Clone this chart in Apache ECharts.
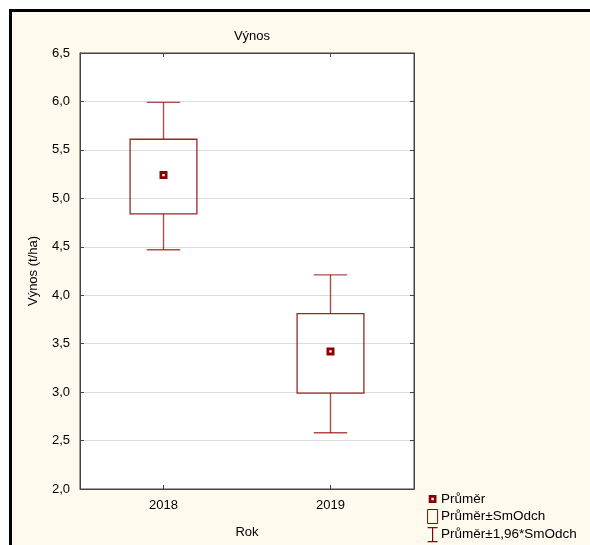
<!DOCTYPE html>
<html>
<head>
<meta charset="utf-8">
<script src="https://cdn.jsdelivr.net/npm/echarts@6/dist/echarts.min.js"></script>
<style>
  html, body { margin: 0; padding: 0; background: #ffffff; }
  #chart { width: 590px; height: 545px; }
</style>
</head>
<body>
<div id="chart"></div>
<script>
// ---- data ----
const categories = ['2018', '2019'];
const means  = [5.24, 3.42];
const sdLow  = [4.84, 2.99];
const sdHigh = [5.61, 3.81];
const ciLow  = [4.47, 2.58];
const ciHigh = [5.99, 4.21];
const yTicks = { min: 2.0, max: 6.5, step: 0.5 };
const titleText = 'Výnos';
const yName = 'Výnos (t/ha)';
const xName = 'Rok';
const seriesNames = ['Průměr', 'Průměr±SmOdch', 'Průměr±1,96*SmOdch'];

const RED = '#8b0000';
const FONT = 'Liberation Sans, Arial, sans-serif';
const FS = 13;

const boxData = categories.map((c, i) => [i, sdLow[i], sdHigh[i]]);
const whiskerData = categories.map((c, i) => [i, ciLow[i], sdLow[i], sdHigh[i], ciHigh[i]]);
const meanData = categories.map((c, i) => [i, means[i]]);

const chart = echarts.init(document.getElementById('chart'), null, { renderer: 'canvas' });

const fmt = v => v.toFixed(1).replace('.', ',');

chart.setOption({
  animation: false,
  backgroundColor: '#ffffff',
  graphic: [{
    type: 'rect', z: -10, silent: true,
    shape: { x: 10.5, y: 10.5, width: 700, height: 700 },
    style: { fill: '#fffaee', stroke: '#000000', lineWidth: 3 }
  }],
  title: {
    text: titleText,
    left: 247, top: 25, textAlign: 'center',
    textStyle: { fontFamily: FONT, fontSize: FS, fontWeight: 'normal', color: '#000' }
  },
  grid: {
    left: 80, right: 176, top: 53, bottom: 56,
    show: true, backgroundColor: '#ffffff', borderColor: '#444', borderWidth: 1
  },
  legend: {
    orient: 'vertical', left: 427, top: 492,
    itemWidth: 11, itemHeight: 14, itemGap: 3, padding: 0,
    textStyle: { fontFamily: FONT, fontSize: 13.5, color: '#000', padding: [0, 0, 0, -2] },
    selectedMode: false,
    data: [
      { name: seriesNames[0],
        icon: 'path://M0,0M14,18M2,4L12,4L12,14L2,14ZM5.5,7.5L5.5,10.5L8.5,10.5L8.5,7.5Z',
        itemStyle: { color: RED, borderWidth: 0 } },
      { name: seriesNames[1],
        icon: 'path://M0,0L10,0L10,14L0,14Z',
        itemStyle: { color: 'rgba(0,0,0,0)', borderColor: RED, borderWidth: 1 } },
      { name: seriesNames[2],
        icon: 'path://M0,0L10,0M5,0L5,14M0,14L10,14',
        itemStyle: { color: 'rgba(0,0,0,0)', borderColor: RED, borderWidth: 1.2 } }
    ]
  },
  xAxis: [{
    type: 'category', data: categories, boundaryGap: true,
    name: xName, nameLocation: 'middle', nameGap: 37,
    nameTextStyle: { fontFamily: FONT, fontSize: FS, color: '#000' },
    axisLine: { show: true, lineStyle: { color: '#444' } },
    axisTick: { show: true, inside: true, alignWithLabel: true, length: 4, lineStyle: { color: '#444' } },
    axisLabel: { fontFamily: FONT, fontSize: FS, color: '#000', margin: 10 },
    splitLine: { show: false }
  }, {
    type: 'category', data: categories, position: 'top', boundaryGap: true,
    axisLine: { show: true, lineStyle: { color: '#444' } },
    axisTick: { show: true, inside: true, alignWithLabel: true, length: 4, lineStyle: { color: '#444' } },
    axisLabel: { show: false }, splitLine: { show: false }
  }],
  yAxis: [{
    type: 'value', min: yTicks.min, max: yTicks.max, interval: yTicks.step,
    name: yName, nameLocation: 'middle', nameGap: 40, nameRotate: 90,
    nameTextStyle: { fontFamily: FONT, fontSize: FS, color: '#000' },
    axisLine: { show: true, lineStyle: { color: '#444' } },
    axisTick: { show: true, inside: true, length: 4, lineStyle: { color: '#444' } },
    axisLabel: { fontFamily: FONT, fontSize: FS, color: '#000', margin: 10, formatter: fmt },
    splitLine: { show: true, lineStyle: { color: '#dddddd', width: 1 } }
  }, {
    type: 'value', min: yTicks.min, max: yTicks.max, interval: yTicks.step, position: 'right',
    axisLine: { show: true, lineStyle: { color: '#444' } },
    axisTick: { show: true, inside: true, length: 4, lineStyle: { color: '#444' } },
    axisLabel: { show: false }, splitLine: { show: false }
  }],
  series: [
    {
      name: seriesNames[2], type: 'custom', z: 2,
      itemStyle: { color: RED },
      encode: { x: 0, y: [1, 2, 3, 4] },
      data: whiskerData,
      renderItem: function (params, api) {
        const x = api.value(0);
        const pLo = api.coord([x, api.value(1)]);
        const pBoxLo = api.coord([x, api.value(2)]);
        const pBoxHi = api.coord([x, api.value(3)]);
        const pHi = api.coord([x, api.value(4)]);
        const cap = api.size([1, 0])[0] * 0.2;
        const st = { stroke: RED, lineWidth: 1.4, opacity: 0.7 };
        return {
          type: 'group',
          children: [
            { type: 'line', shape: { x1: pHi[0], y1: pHi[1], x2: pBoxHi[0], y2: pBoxHi[1] }, style: st },
            { type: 'line', shape: { x1: pLo[0], y1: pLo[1], x2: pBoxLo[0], y2: pBoxLo[1] }, style: st },
            { type: 'line', shape: { x1: pHi[0] - cap / 2, y1: pHi[1], x2: pHi[0] + cap / 2, y2: pHi[1] }, style: st },
            { type: 'line', shape: { x1: pLo[0] - cap / 2, y1: pLo[1], x2: pLo[0] + cap / 2, y2: pLo[1] }, style: st }
          ]
        };
      }
    },
    {
      name: seriesNames[1], type: 'custom', z: 3,
      itemStyle: { color: RED },
      encode: { x: 0, y: [1, 2] },
      data: boxData,
      renderItem: function (params, api) {
        const x = api.value(0);
        const pHi = api.coord([x, api.value(2)]);
        const pLo = api.coord([x, api.value(1)]);
        const w = api.size([1, 0])[0] * 0.4;
        return {
          type: 'rect',
          shape: { x: pHi[0] - w / 2, y: pHi[1], width: w, height: pLo[1] - pHi[1] },
          style: { fill: 'rgba(0,0,0,0)', stroke: RED, lineWidth: 1.3, opacity: 0.85 }
        };
      }
    },
    {
      name: seriesNames[0], type: 'scatter', z: 4,
      symbol: 'path://M0,0L10,0L10,10L0,10ZM3.5,3.5L3.5,6.5L6.5,6.5L6.5,3.5Z',
      symbolSize: 8,
      itemStyle: { color: RED, opacity: 1 },
      data: meanData
    }
  ]
});
</script>
</body>
</html>
